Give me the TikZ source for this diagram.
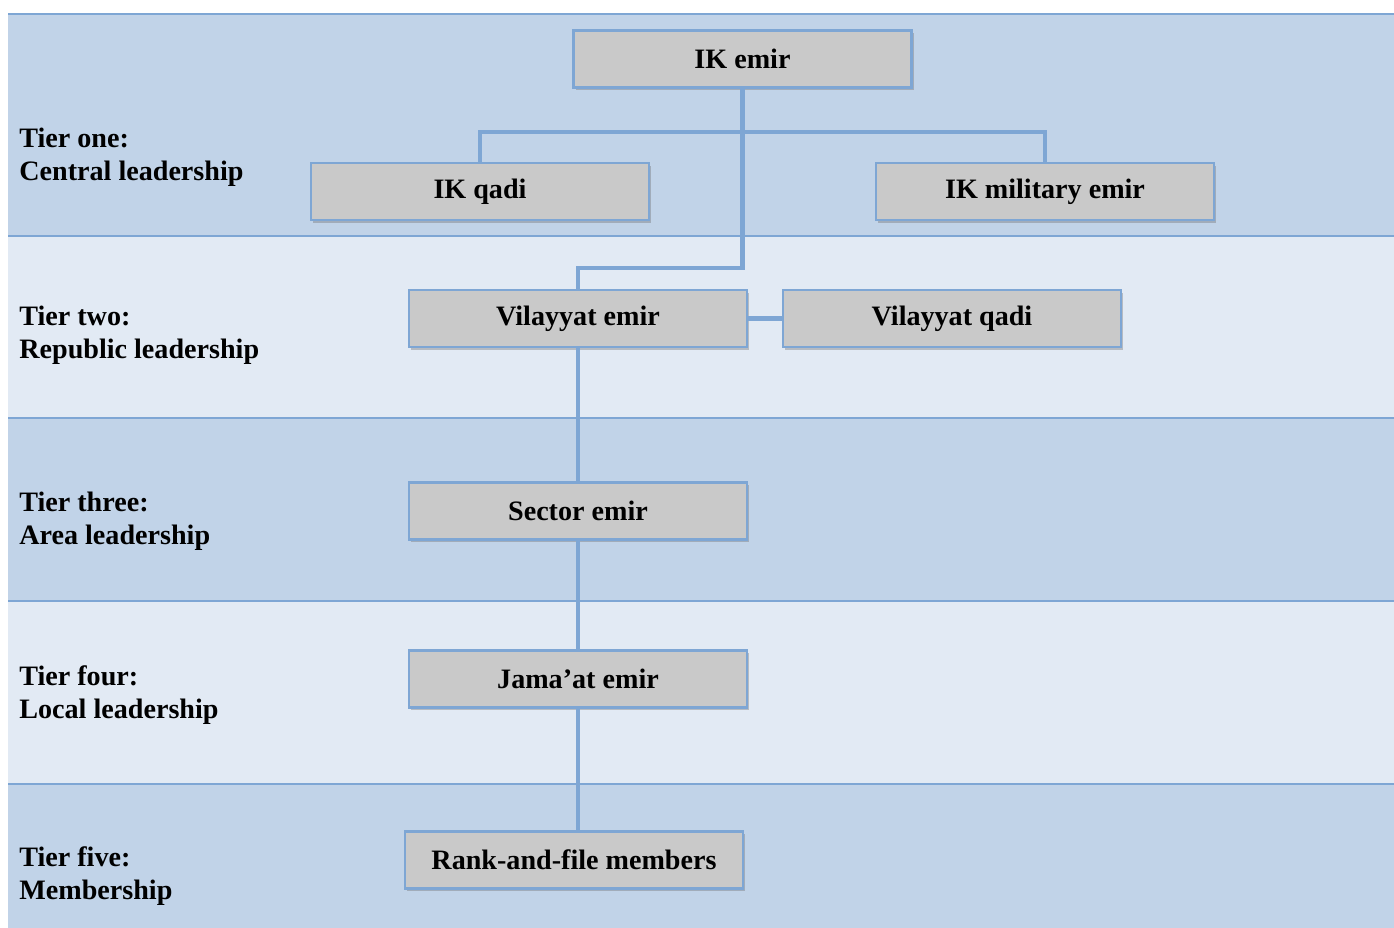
\documentclass[tikz,border=0pt]{standalone}
\usepackage{fontspec}
\setmainfont{Liberation Serif}
\usepackage{tikz}
\usetikzlibrary{positioning,calc,shadows}
\definecolor{TierDark} {HTML}{C1D3E8}
\definecolor{TierLight}{HTML}{E2EAF4}
\definecolor{TierLine} {HTML}{7EA6D4}
\definecolor{BoxGray}  {HTML}{C9C9C9}
\tikzset{
  tierbox/.style={draw=TierLine,fill=BoxGray,line width=1.2pt,inner sep=0pt,
    minimum width=6.76cm,minimum height=1.14cm,
    font=\fontsize{16}{18.7}\selectfont\bfseries,
    drop shadow={shadow xshift=0.04cm,shadow yshift=-0.05cm,opacity=0.35,fill=black!60}},
  tierlabel/.style={anchor=west,align=left,inner sep=0pt,
    font=\fontsize{16}{18.7}\selectfont\bfseries},
  linkline/.style={line width=2.3pt,color=TierLine},
  bandline/.style={line width=1.2pt,color=TierLine}
}

\begin{document}
\begin{tikzpicture}
    \useasboundingbox (0,0) rectangle (27.88,-18.56);
    % Tier bands
    \fill[TierDark]  (0.16,-0.28)  rectangle (27.88,-4.72);
    \fill[TierLight] (0.16,-4.72)  rectangle (27.88,-8.36);
    \fill[TierDark]  (0.16,-8.36)  rectangle (27.88,-12.02);
    \fill[TierLight] (0.16,-12.02) rectangle (27.88,-15.68);
    \fill[TierDark]  (0.16,-15.68) rectangle (27.88,-18.56);
    \foreach \y in {-0.28,-4.72,-8.36,-12.02,-15.68}
      \draw[bandline] (0.16,\y) -- (27.88,\y);
    % Tier labels
    \node[tierlabel] (t1) at (0.38,-3.15)  {Tier one:\\Central leadership};
    \node[tierlabel] (t2) at (0.38,-6.7)   {Tier two:\\Republic leadership};
    \node[tierlabel] (t3) at (0.38,-10.43) {Tier three:\\Area leadership};
    \node[tierlabel] (t4) at (0.38,-13.9)  {Tier four:\\Local leadership};
    \node[tierlabel] (t5) at (0.38,-17.53) {Tier five:\\Membership};
    % Position boxes
    \node[tierbox] (ikemir)  at (14.85,-1.18)  {IK emir};
    \node[tierbox] (ikqadi)  at (9.6,-3.83)    {IK qadi};
    \node[tierbox] (ikmil)   at (20.9,-3.83)   {IK military emir};
    \node[tierbox] (vemir)   at (11.56,-6.37)  {Vilayyat emir};
    \node[tierbox] (vqadi)   at (19.04,-6.37)  {Vilayyat qadi};
    \node[tierbox] (sector)  at (11.56,-10.22) {Sector emir};
    \node[tierbox] (jamaat)  at (11.56,-13.58) {Jama’at emir};
    \node[tierbox] (rank)    at (11.48,-17.2)  {Rank-and-file members};
    % Connectors
    \coordinate (bar)   at (0,-2.64);
    \coordinate (split) at (0,-5.36);
    \draw[linkline] (ikqadi.north) -- (ikqadi.north |- bar) -| (ikmil.north);
    \draw[linkline] (ikemir.south) -- (ikemir.south |- split) -| (vemir.north);
    \draw[linkline] (vemir.east) -- (vqadi.west);
    \draw[linkline] (vemir.south) -- (sector.north);
    \draw[linkline] (sector.south) -- (jamaat.north);
    \draw[linkline] (jamaat.south) -- (jamaat.south |- rank.north);
\end{tikzpicture}
\end{document}
